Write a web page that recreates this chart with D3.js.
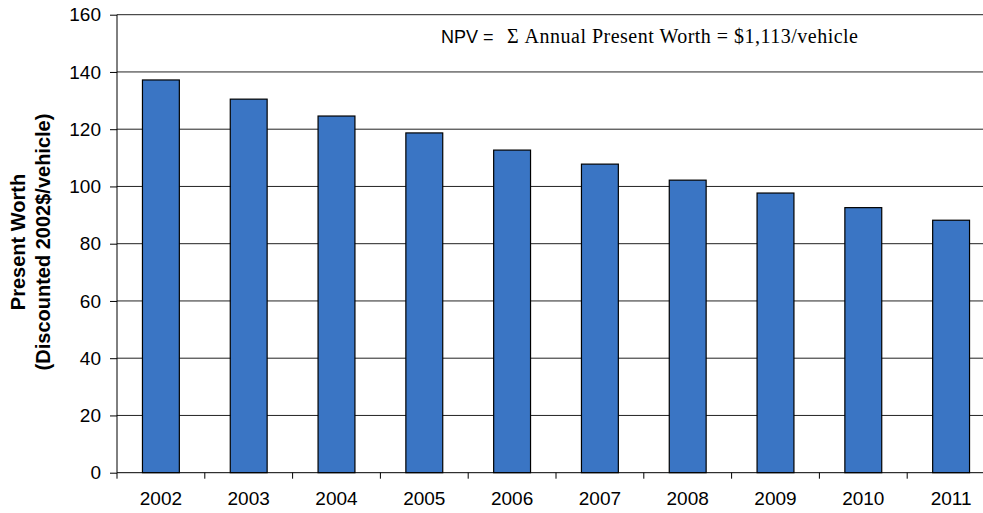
<!DOCTYPE html>
<html>
<head>
<meta charset="utf-8">
<script src="https://cdn.jsdelivr.net/npm/d3@7"></script>
<style>
  body { margin: 0; background: #fff; }
  svg { display: block; font-family: "Liberation Sans", Arial, sans-serif; }
</style>
</head>
<body>
<div id="canvas"></div>
<script>
// data
const years = ["2002", "2003", "2004", "2005", "2006", "2007", "2008", "2009", "2010", "2011"];
const presentWorth = [137.2, 130.5, 124.6, 118.7, 112.7, 107.8, 102.2, 97.7, 92.6, 88.2];
const yTicks = [0, 20, 40, 60, 80, 100, 120, 140, 160];

const dims = { width: 983, height: 513 };
const margin = { top: 14.7, left: 117, bottom: 40.3 };
const plotW = 878; // runs past the right edge, as in the original
const plotH = dims.height - margin.top - margin.bottom;

const svg = d3.select("#canvas")
  .append("svg")
  .attr("width", dims.width)
  .attr("height", dims.height);

const graph = svg.append("g")
  .attr("transform", `translate(${margin.left}, ${margin.top})`);

const xScale = d3.scaleBand()
  .domain(years)
  .range([0, plotW])
  .paddingInner(0.58)
  .paddingOuter(0.29);

const yScale = d3.scaleLinear()
  .domain([0, 160])
  .range([plotH, 0]);

// gridlines
graph.append("g")
  .selectAll("line")
  .data(yTicks.filter(d => d > 0))
  .enter()
  .append("line")
  .attr("x1", 0)
  .attr("x2", plotW)
  .attr("y1", d => yScale(d))
  .attr("y2", d => yScale(d))
  .attr("stroke", "#222")
  .attr("stroke-width", 1);

// bars
graph.append("g")
  .selectAll("rect")
  .data(presentWorth)
  .enter()
  .append("rect")
  .attr("x", (d, i) => xScale(years[i]))
  .attr("y", d => yScale(d))
  .attr("width", xScale.bandwidth())
  .attr("height", d => plotH - yScale(d))
  .attr("fill", "#3A75C4")
  .attr("stroke", "#000")
  .attr("stroke-width", 1.2);

// y axis
const yAxis = d3.axisLeft(yScale)
  .tickValues(yTicks)
  .tickSize(7)
  .tickPadding(9);
const yAxisGroup = graph.append("g").call(yAxis);
yAxisGroup.select(".domain").attr("d", `M0,0V${plotH}`);

// x axis: tick marks at category boundaries
const xAxisGroup = graph.append("g")
  .attr("transform", `translate(0, ${plotH})`);
xAxisGroup.append("line")
  .attr("x1", 0).attr("x2", plotW)
  .attr("stroke", "#000");
const step = xScale.step();
xAxisGroup.selectAll(".xtick")
  .data(d3.range(years.length + 1))
  .enter()
  .append("line")
  .attr("class", "xtick")
  .attr("x1", i => i * step)
  .attr("x2", i => i * step)
  .attr("y1", 0)
  .attr("y2", 6)
  .attr("stroke", "#000");
xAxisGroup.selectAll(".xlabel")
  .data(years)
  .enter()
  .append("text")
  .attr("class", "xlabel")
  .attr("x", (d, i) => (i + 0.5) * step)
  .attr("y", 32)
  .attr("text-anchor", "middle")
  .attr("font-size", 19)
  .attr("fill", "#000")
  .text(d => d);

graph.selectAll(".tick text")
  .attr("font-size", 19)
  .attr("font-family", "Liberation Sans, Arial, sans-serif")
  .attr("fill", "#000");
graph.selectAll(".tick line, .domain").attr("stroke", "#000");

// y title
const yTitle = svg.append("text")
  .attr("transform", "translate(0, 242) rotate(-90)")
  .attr("text-anchor", "middle")
  .attr("font-size", 20)
  .attr("font-weight", "bold")
  .attr("fill", "#000");
yTitle.append("tspan").attr("x", 0).attr("y", 25).text("Present Worth");
yTitle.append("tspan").attr("x", 0).attr("y", 50).text("(Discounted 2002$/vehicle)");

// annotation
svg.append("text")
  .attr("x", 441)
  .attr("y", 43)
  .attr("font-size", 18)
  .attr("fill", "#000")
  .text("NPV =");
svg.append("text")
  .attr("x", 507)
  .attr("y", 43)
  .attr("font-family", "Liberation Serif, Times New Roman, serif")
  .attr("font-size", 20)
  .attr("textLength", 351)
  .attr("fill", "#000")
  .text("\u03A3 Annual Present Worth = $1,113/vehicle");
</script>
</body>
</html>
